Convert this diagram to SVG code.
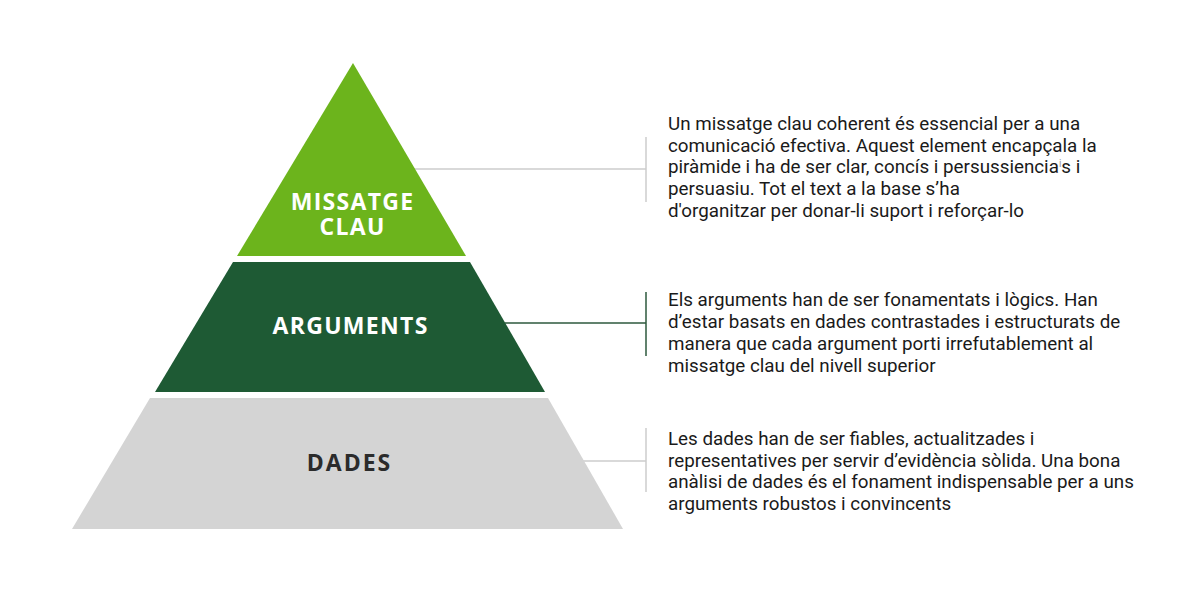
<svg xmlns="http://www.w3.org/2000/svg" width="1200" height="593" viewBox="0 0 1200 593">
<style>
.lbl{font-family:"Open Sans","Liberation Sans",sans-serif;font-weight:700;text-anchor:middle;font-size:23px;}
.body{font-family:Roboto,"Liberation Sans",sans-serif;font-size:18.8px;fill:#1a1a1a;}
.gray{stroke:#cdcdcd;stroke-width:1.5;fill:none;}
.dark{stroke:#2e5a3e;stroke-width:1.5;fill:none;}
</style>
<rect width="1200" height="593" fill="#ffffff"/>
<g id="connectors">
<path class="gray" d="M414 169 H646 M646 137 V202"/>
<path class="dark" d="M505 323 H646 M646 292 V356"/>
<path class="gray" d="M583 461 H646 M646 428 V492"/>
</g>
<g id="missatge-clau">
<polygon points="353,63 466,256 237,256" fill="#6cb41c"/>
<text class="lbl" letter-spacing="1.3" fill="#ffffff"><tspan x="352.6" y="210">MISSATGE</tspan><tspan x="352.6" y="235">CLAU</tspan></text>
</g>
<g id="arguments">
<polygon points="233,262 470,262 545,392 155,392" fill="#1e5a34"/>
<text class="lbl" x="350.6" y="334" letter-spacing="1.3" fill="#ffffff">ARGUMENTS</text>
</g>
<g id="dades">
<polygon points="150,398 548,398 623,529 72,529" fill="#d4d4d4"/>
<text class="lbl" x="349.5" y="471" letter-spacing="2" fill="#2b2b2b">DADES</text>
</g>
<g id="text-missatge">
<text class="body" x="668" y="130">Un missatge clau coherent és essencial per a una</text>
<text class="body" x="668" y="152">comunicació efectiva. Aquest element encapçala la</text>
<text class="body" x="668" y="173">piràmide i ha de ser clar, concís i persussiencia<tspan fill="#999" font-size="10" dy="-6">i</tspan><tspan dy="6">s i</tspan></text>
<text class="body" x="668" y="195">persuasiu. Tot el text a la base s’ha</text>
<text class="body" x="668" y="217">d'organitzar per donar-li suport i reforçar-lo</text>
</g>
<g id="text-arguments">
<text class="body" x="668" y="306">Els arguments han de ser fonamentats i lògics. Han</text>
<text class="body" x="668" y="328">d’estar basats en dades contrastades i estructurats de</text>
<text class="body" x="668" y="350">manera que cada argument porti irrefutablement al</text>
<text class="body" x="668" y="372">missatge clau del nivell superior</text>
</g>
<g id="text-dades">
<text class="body" x="668" y="445">Les dades han de ser fiables, actualitzades i</text>
<text class="body" x="668" y="467">representatives per servir d’evidència sòlida. Una bona</text>
<text class="body" x="668" y="488">anàlisi de dades és el fonament indispensable per a uns</text>
<text class="body" x="668" y="510">arguments robustos i convincents</text>
</g>
</svg>
